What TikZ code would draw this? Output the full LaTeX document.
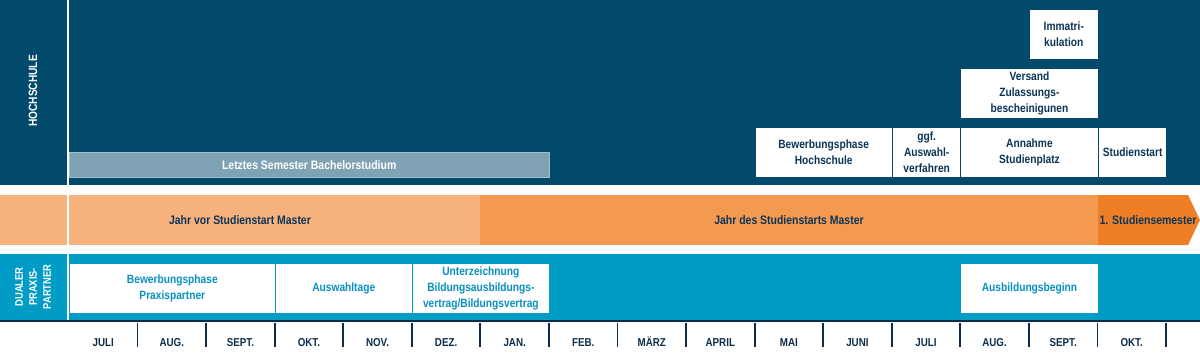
\documentclass[tikz,border=0pt]{standalone}
\usepackage{fontspec}
\setmainfont{Liberation Sans}[FakeStretch=0.85]
\usetikzlibrary{positioning}

\definecolor{hsnavy}{HTML}{024A6B}
\definecolor{boxtext}{HTML}{0B3558}
\definecolor{graybar}{HTML}{7FA2B4}
\definecolor{graybord}{HTML}{A3BDCA}
\definecolor{orlight}{HTML}{F6B17D}
\definecolor{ormid}{HTML}{F39A50}
\definecolor{ordark}{HTML}{EE7F27}
\definecolor{ppblue}{HTML}{009CC5}
\definecolor{pptext}{HTML}{0891C0}
\definecolor{montext}{HTML}{0D2D4A}

\newcommand{\boxfont}{\bfseries\fontsize{12}{16}\selectfont}
\newcommand{\bandfont}{\bfseries\fontsize{12.3}{16}\selectfont}

\begin{document}
\begin{tikzpicture}[x=1pt, y=-1pt,
    hsbox/.style={draw=hsnavy, line width=1pt, fill=white, text=boxtext,
      anchor=north west, minimum height=50pt, align=center, inner sep=1pt,
      font=\boxfont},
    ppbox/.style={hsbox, draw=ppblue, text=pptext},
    span1/.style={minimum width=68.56pt},
    span2/.style={minimum width=137.12pt},
    span3/.style={minimum width=205.68pt},
    sidelabel/.style={rotate=90, text=white, align=center},
    bandtext/.style={text=boxtext, font=\bandfont},
    mon/.style={text=montext, anchor=base, font=\bfseries\fontsize{11.5}{13}\selectfont},
    monline/.style={draw=montext, line width=1.8pt}]

    \useasboundingbox (0,0) rectangle (1200,364);

    % Baender
    \fill[hsnavy] (0,0) rectangle (1200,185);
    \fill[orlight] (0,195) rectangle (480,245);
    \fill[ormid] (480,195) rectangle (1098,245);
    \fill[ordark] (1098,195) -- (1188,195) -- (1200,220) -- (1188,245) -- (1098,245) -- cycle;
    \fill[ppblue] (0,254) rectangle (1200,320);
    \draw[montext, line width=1.5pt] (0,321) -- (1200,321);

    % Trennlinie der Seitenspalte
    \draw[white, line width=2pt] (68,0) -- (68,320);

    % Seitenbeschriftung
    \node[sidelabel, font=\bfseries\fontsize{12}{13}\selectfont] (hsLabel) at (33,91) {HOCHSCHULE};
    \node[sidelabel, font=\bfseries\fontsize{11}{14}\selectfont] (ppLabel) at (33,287) {DUALER\\PRAXIS-\\PARTNER};

    % Hochschule
    \node[draw=graybord, fill=graybar, text=white, font=\bandfont, anchor=north west,
      minimum width=480pt, minimum height=25pt, inner sep=0pt] (bach) at (69,152) {Letztes Semester Bachelorstudium};
    \node[hsbox, span2] (bewHS) at (754.6,127) {Bewerbungsphase\\Hochschule};
    \node[hsbox, span1] (ggf) at (891.9,127) {ggf.\\Auswahl-\\verfahren};
    \node[hsbox, span2] (annahme) at (960.4,127) {Annahme\\Studienplatz};
    \node[hsbox, span1] (start) at (1097.9,127) {Studienstart};
    \node[hsbox, span2] (versand) at (960.4,68) {Versand\\Zulassungs-\\bescheinigunen};
    \node[hsbox, span1] (immatr) at (1029,9) {Immatri-\\kulation};

    % Zeitleiste
    \node[bandtext] (jahrVor) at (240,220) {Jahr vor Studienstart Master};
    \node[bandtext] (jahrDes) at (789,220) {Jahr des Studienstarts Master};
    \node[bandtext] (sem1) at (1148,220) {1. Studiensemester};

    % Praxispartner
    \node[ppbox, span3] (bewPP) at (69,262.5) {Bewerbungsphase\\Praxispartner};
    \node[ppbox, span2] (auswahl) at (274.7,262.5) {Auswahltage};
    \node[ppbox, span2] (unterz) at (411.8,262.5) {Unterzeichnung\\Bildungsausbildungs-\\vertrag/Bildungsvertrag};
    \node[ppbox, span2] (ausbild) at (960.4,262.5) {Ausbildungsbeginn};

    % Monate
    \foreach \m [count=\i from 0] in {JULI,AUG.,SEPT.,OKT.,NOV.,DEZ.,JAN.,FEB.,MÄRZ,APRIL,MAI,JUNI,JULI,AUG.,SEPT.,OKT.} {
      \node[mon] (m\i) at ({103.28+68.56*\i},346) {\m};
      \draw[monline] ({137.56+68.56*\i},323) -- ++(0,24);
    }

  \end{tikzpicture}
\end{document}
